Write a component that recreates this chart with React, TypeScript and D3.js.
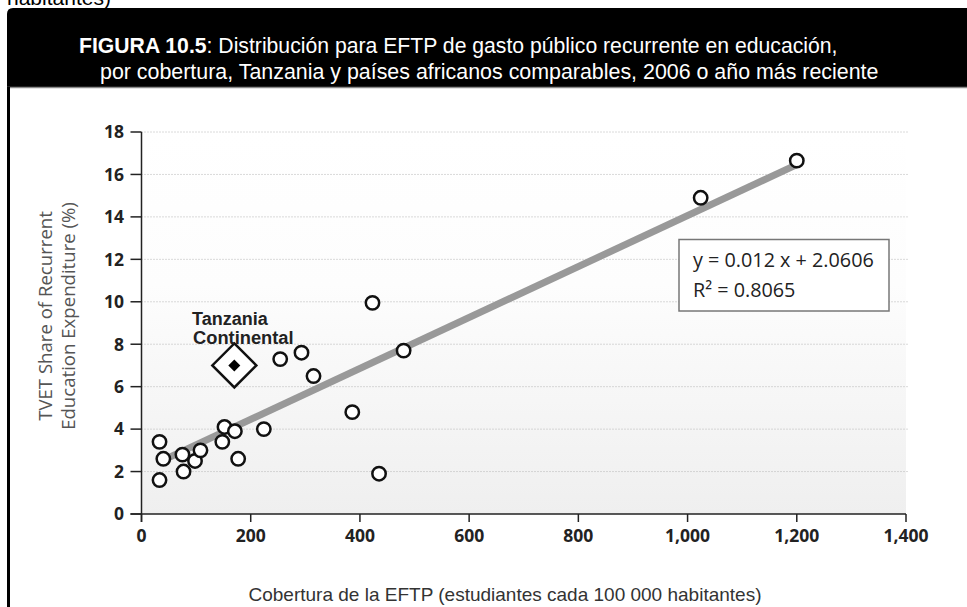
import React from "react";
import { scaleLinear, format, line } from "d3";

// TVET coverage (students per 100 000 inhabitants) and TVET share of recurrent spending (%)
const coverage = [1200, 1024, 423, 480, 293, 254, 315, 386, 435, 224, 152, 171, 148, 177, 33, 40, 33, 75, 77, 98, 108];
const share = [16.65, 14.9, 9.95, 7.7, 7.6, 7.3, 6.5, 4.8, 1.9, 4.0, 4.1, 3.9, 3.4, 2.6, 3.4, 2.6, 1.6, 2.8, 2.0, 2.5, 3.0];

// Tanzania Continental
const tzCoverage = 170;
const tzShare = 7.0;

// regression fit
const slope = 0.012;
const intercept = 2.0606;
const rSquared = 0.8065;

const xTicks = [0, 200, 400, 600, 800, 1000, 1200, 1400];
const yTicks = [0, 2, 4, 6, 8, 10, 12, 14, 16, 18];

const titleLine1Bold = "FIGURA 10.5";
const titleLine1 = ": Distribución para EFTP de gasto público recurrente en educación,";
const titleLine2 = "por cobertura, Tanzania y países africanos comparables, 2006 o año más reciente";
const yLabel = ["TVET Share of Recurrent", "Education Expenditure (%)"];
const xLabel = "Cobertura de la EFTP (estudiantes cada 100 000 habitantes)";

const W = 967;
const H = 607;

const App = () => {
  const x = scaleLinear().domain([0, 1400]).range([141.5, 906]);
  const y = scaleLinear().domain([0, 18]).range([514, 132]);
  const fmt = format(",");
  const points = coverage.map((c, i) => ({ c, s: share[i] }));

  const xMin = Math.min(...coverage);
  const xMax = Math.max(...coverage);
  const fitLine = line<number>()
    .x((d) => x(d))
    .y((d) => y(slope * d + intercept));

  const tzX = x(tzCoverage);
  const tzY = y(tzShare);
  const sans = "'Open Sans', sans-serif";
  const arial = "'Liberation Sans', Arial, sans-serif";

  return (
    <svg width={W} height={H} style={{ position: "absolute", left: 0, top: 0, background: "#fff" }}>
      <defs>
        <linearGradient id="bg" x1="0" y1="0" x2="0" y2="1">
          <stop offset="0%" stopColor="#ffffff" />
          <stop offset="40%" stopColor="#fdfdfd" />
          <stop offset="100%" stopColor="#efefef" />
        </linearGradient>
      </defs>

      {/* cut-off text from previous line */}
      <text x={7} y={5} fontFamily={arial} fontSize={21} fill="#000">habitantes)</text>

      {/* title band */}
      <path d={`M7,${87} L7,14 Q7,8 13,8 L${W},8 L${W},87 Z`} fill="#000" />
      <line x1={7} x2={W} y1={87.5} y2={87.5} stroke="#8a8a8a" strokeWidth={1.5} />
      <rect x={7} y={87} width={3} height={H - 87} fill="#000" />
      <text x={79} y={53} fontFamily={arial} fontSize={21.2} fill="#fff">
        <tspan fontWeight={700}>{titleLine1Bold}</tspan>
        <tspan>{titleLine1}</tspan>
      </text>
      <text x={100} y={79} fontFamily={arial} fontSize={21.4} fill="#fff">{titleLine2}</text>

      {/* plot background */}
      <rect x={x(0)} y={y(18)} width={x(1400) - x(0)} height={y(0) - y(18)} fill="url(#bg)" />

      {/* grid */}
      {yTicks.filter((t) => t > 0).map((t) => (
        <line key={t} x1={x(0)} x2={908} y1={y(t)} y2={y(t)} stroke="#b5b5b5" strokeWidth={1} strokeDasharray="1,2" />
      ))}

      {/* axes */}
      <line x1={x(0)} x2={x(0)} y1={y(18)} y2={y(0) + 8} stroke="#222" strokeWidth={1.5} />
      <line x1={x(0) - 11} x2={x(1400)} y1={y(0)} y2={y(0)} stroke="#222" strokeWidth={1.5} />
      {yTicks.map((t) => (
        <g key={t}>
          <line x1={x(0) - 11} x2={x(0)} y1={y(t)} y2={y(t)} stroke="#222" strokeWidth={1.5} />
          <text x={124} y={y(t)} dy="0.36em" textAnchor="end" fontFamily={sans} fontWeight={700} fontSize={17.5} fill="#222">
            {t}
          </text>
        </g>
      ))}
      {xTicks.map((t) => (
        <g key={t}>
          <line x1={x(t)} x2={x(t)} y1={y(0)} y2={y(0) + 8} stroke="#222" strokeWidth={1.5} />
          <text x={x(t)} y={542} textAnchor="middle" fontFamily={sans} fontWeight={700} fontSize={17.5} fill="#222">
            {fmt(t)}
          </text>
        </g>
      ))}

      {/* regression line */}
      <path d={fitLine([xMin, xMax]) || ""} stroke="#999" strokeWidth={7} fill="none" />

      {/* countries */}
      {points.map((p, i) => (
        <circle key={i} cx={x(p.c)} cy={y(p.s)} r={6.7} fill="#fff" stroke="#111" strokeWidth={2.5} />
      ))}

      {/* Tanzania */}
      <path d={`M${tzX},${tzY - 22} L${tzX + 22},${tzY} L${tzX},${tzY + 22} L${tzX - 22},${tzY} Z`} fill="#fff" stroke="#111" strokeWidth={2.5} />
      <path d={`M${tzX},${tzY - 6} L${tzX + 6},${tzY} L${tzX},${tzY + 6} L${tzX - 6},${tzY} Z`} fill="#000" />
      <text x={tzX - 4.5} y={tzY - 40} textAnchor="middle" fontFamily={arial} fontWeight={700} fontSize={18} fill="#222">Tanzania</text>
      <text x={tzX + 9} y={tzY - 21} textAnchor="middle" fontFamily={arial} fontWeight={700} fontSize={18.3} fill="#222">Continental</text>

      {/* equation box */}
      <rect x={679} y={239.5} width={210} height={71.5} fill="#fff" stroke="#777" strokeWidth={1.5} />
      <text x={693} y={267} fontFamily={sans} fontSize={19.8} fill="#222">
        {`y = ${slope} x + ${intercept}`}
      </text>
      <text x={693} y={297} fontFamily={sans} fontSize={19.8} fill="#222">
        {`R² = ${rSquared}`}
      </text>

      {/* axis labels */}
      {yLabel.map((l, i) => (
        <text key={i} transform={`translate(${52 + i * 23},316) rotate(-90)`} textAnchor="middle" fontFamily={sans} fontSize={18.6} fill="#555">
          {l}
        </text>
      ))}
      <text x={505} y={601} textAnchor="middle" fontFamily={arial} fontSize={19} fill="#333">{xLabel}</text>
    </svg>
  );
};

export default App;
